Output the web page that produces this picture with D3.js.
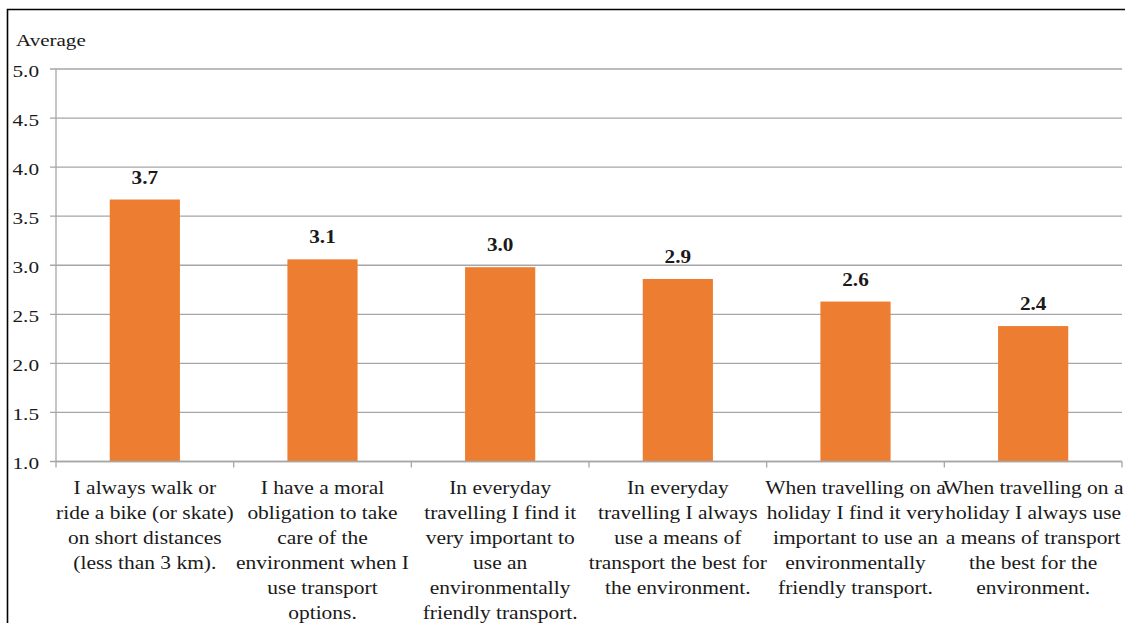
<!DOCTYPE html>
<html>
<head>
<meta charset="utf-8">
<script src="https://cdn.jsdelivr.net/npm/d3@7"></script>
<style>
  html, body { margin: 0; padding: 0; background: #fff; }
  svg { display: block; }
  text { font-family: "Liberation Serif", "Times New Roman", serif; fill: #1a1a1a; }
</style>
</head>
<body>
<svg id="chart" width="1125" height="623"></svg>
<script>
// Survey statements (wrapped as printed under the axis)
const categories = [
  ["I always walk or", "ride a bike (or skate)", "on short distances", "(less than 3 km)."],
  ["I have a moral", "obligation to take", "care of the", "environment when I", "use transport", "options."],
  ["In everyday", "travelling I find it", "very important to", "use an", "environmentally", "friendly transport."],
  ["In everyday", "travelling I always", "use a means of", "transport the best for", "the environment."],
  ["When travelling on a", "holiday I find it very", "important to use an", "environmentally", "friendly transport."],
  ["When travelling on a", "holiday I always use", "a means of transport", "the best for the", "environment."]
];
// Average agreement score per statement
const values = [3.67, 3.06, 2.98, 2.86, 2.63, 2.38];
const yTicks = [1.0, 1.5, 2.0, 2.5, 3.0, 3.5, 4.0, 4.5, 5.0];
const yTitle = "Average";

const svg = d3.select("#chart");
const W = 1125, H = 623;
const plot = { left: 56, right: 1122, top: 69, bottom: 461.5 };
const fmt = d3.format(".1f");

const x = d3.scaleBand()
  .domain(d3.range(categories.length))
  .range([plot.left, plot.right])
  .paddingInner(0.605)
  .paddingOuter(0.3025);
const step = x.step();

const y = d3.scaleLinear().domain([1, 5]).range([plot.bottom, plot.top]);

// outer frame
svg.append("path")
  .attr("d", `M7.5,${H + 5} V9.5 H${W + 5}`)
  .attr("fill", "none")
  .attr("stroke", "#000")
  .attr("stroke-width", 1.6);

// horizontal gridlines with left tick stubs
svg.append("g")
  .selectAll("line")
  .data(yTicks)
  .join("line")
  .attr("x1", plot.left - 6)
  .attr("x2", plot.right)
  .attr("y1", d => y(d))
  .attr("y2", d => y(d))
  .attr("stroke", "#a6a6a6")
  .attr("stroke-width", 1.3);

// y tick labels
svg.append("g")
  .selectAll("text")
  .data(yTicks)
  .join("text")
  .attr("transform", d => `translate(39,${y(d) + 7.5}) scale(1.25,1)`)
  .attr("text-anchor", "end")
  .attr("font-size", 17)
  .text(d => fmt(d));

// y title
svg.append("text")
  .attr("transform", "translate(16,45.5) scale(1.24,1)")
  .attr("font-size", 17)
  .text(yTitle);

// y axis line
svg.append("line")
  .attr("x1", plot.left).attr("x2", plot.left)
  .attr("y1", plot.top).attr("y2", plot.bottom)
  .attr("stroke", "#a6a6a6").attr("stroke-width", 1.3);

// bars
svg.append("g")
  .selectAll("rect")
  .data(values)
  .join("rect")
  .attr("x", (d, i) => x(i))
  .attr("width", x.bandwidth())
  .attr("y", d => y(d))
  .attr("height", d => y(1) - y(d))
  .attr("fill", "#ED7D31");

// value labels
svg.append("g")
  .selectAll("text")
  .data(values)
  .join("text")
  .attr("transform", (d, i) => `translate(${x(i) + x.bandwidth() / 2},${y(d) - 16}) scale(1.18,1)`)
  .attr("text-anchor", "middle")
  .attr("font-size", 18)
  .attr("font-weight", "bold")
  .text(d => fmt(d));

// x axis line and category boundary ticks
svg.append("line")
  .attr("x1", plot.left).attr("x2", plot.right)
  .attr("y1", plot.bottom).attr("y2", plot.bottom)
  .attr("stroke", "#a6a6a6").attr("stroke-width", 1.3);

svg.append("g")
  .selectAll("line")
  .data(d3.range(categories.length + 1))
  .join("line")
  .attr("x1", i => plot.left + i * step)
  .attr("x2", i => plot.left + i * step)
  .attr("y1", plot.bottom)
  .attr("y2", plot.bottom + 6)
  .attr("stroke", "#a6a6a6").attr("stroke-width", 1.3);

// category labels
const lineGap = 25;
const catG = svg.append("g")
  .selectAll("g")
  .data(categories)
  .join("g");

catG.each(function (lines, i) {
  const cx = x(i) + x.bandwidth() / 2;
  d3.select(this).selectAll("text")
    .data(lines)
    .join("text")
    .attr("transform", (t, k) => `translate(${cx},${494 + k * lineGap}) scale(1.13,1)`)
    .attr("text-anchor", "middle")
    .attr("font-size", 19)
    .text(t => t);
});
</script>
</body>
</html>
